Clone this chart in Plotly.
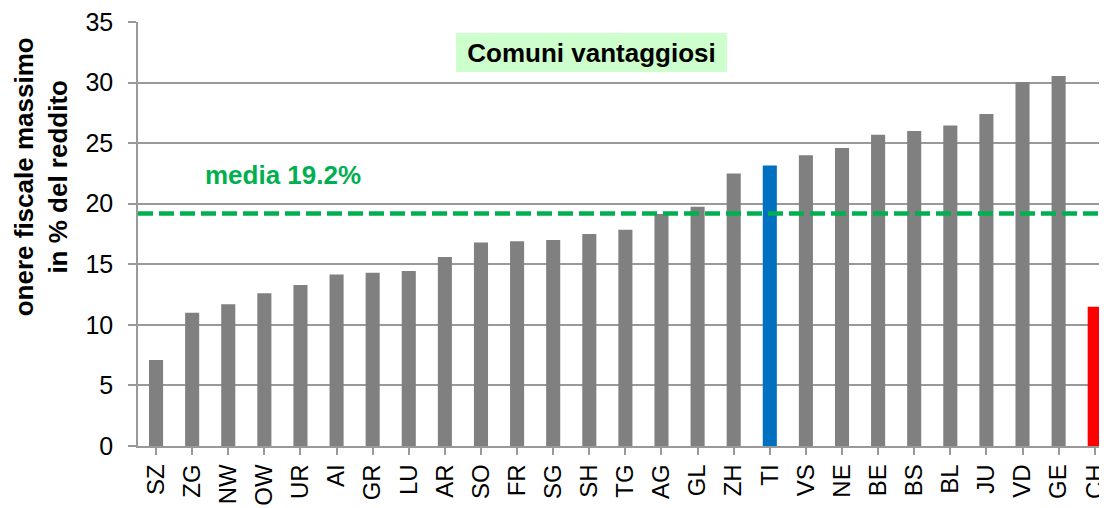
import plotly.graph_objects as go

categories = ["SZ", "ZG", "NW", "OW", "UR", "AI", "GR", "LU", "AR", "SO", "FR", "SG", "SH", "TG",
              "AG", "GL", "ZH", "TI", "VS", "NE", "BE", "BS", "BL", "JU", "VD", "GE", "CH"]
values = [7.1, 11.0, 11.7, 12.6, 13.3, 14.15, 14.3, 14.45, 15.6, 16.8, 16.9, 17.0, 17.5, 17.85,
          19.15, 19.75, 22.5, 23.15, 24.0, 24.6, 25.7, 26.0, 26.45, 27.4, 30.05, 30.55, 11.5]
highlight = {"TI": "#0070C0", "CH": "#FF0000"}
mean_value = 19.2
y_ticks = [0, 5, 10, 15, 20, 25, 30, 35]

colors = [highlight.get(c, "#808080") for c in categories]
FONT = "Liberation Sans, Arial, sans-serif"

fig = go.Figure()
fig.add_trace(go.Bar(
    x=list(range(len(categories))), y=values,
    marker=dict(color=colors, line=dict(width=0)),
    width=0.39,
    hoverinfo="skip",
))

fig.add_shape(type="line", xref="paper", yref="y", x0=0, x1=1, y0=mean_value, y1=mean_value,
              line=dict(color="#00B050", width=4.5, dash="15px,6px"), layer="above")

fig.add_annotation(x=1.3, y=22.4, xref="x", yref="y", xanchor="left", yanchor="middle",
                   text="<b>media 19.2%</b>", showarrow=False,
                   font=dict(family=FONT, size=26, color="#00B050"))

fig.add_annotation(x=12.06, y=32.5, xref="x", yref="y", xanchor="center", yanchor="middle",
                   text="<b>Comuni vantaggiosi</b>", showarrow=False,
                   bgcolor="#CCFFCC", width=271, height=39, borderpad=0, borderwidth=0,
                   font=dict(family=FONT, size=26, color="#000000"))

fig.add_annotation(x=-0.1, y=0.634, xref="paper", yref="paper", xanchor="center", yanchor="middle",
                   text="<b>onere fiscale massimo<br>in % del reddito</b>", showarrow=False,
                   textangle=-90, font=dict(family=FONT, size=26, color="#000000"))

fig.update_layout(
    width=1107, height=508,
    margin=dict(l=130, r=8, t=14, b=70),
    paper_bgcolor="white", plot_bgcolor="white",
    showlegend=False,
    font=dict(family=FONT, size=24, color="#000000"),
)
fig.update_xaxes(
    range=[-0.5, 26.34], automargin=False,
    tickmode="array", tickvals=list(range(len(categories))), ticktext=categories,
    tickangle=-90, tickson="boundaries", ticks="outside", ticklen=7, tickcolor="#999999", tickwidth=1.5,
    showline=True, linecolor="#999999", linewidth=1.5, showgrid=False, zeroline=False,
    ticklabeloverflow="allow",
    tickfont=dict(family=FONT, size=24, color="#000000"),
)
fig.update_yaxes(
    range=[0, 35], tickmode="array", tickvals=y_ticks, automargin=False,
    ticks="outside", ticklen=8, tickcolor="#999999", tickwidth=1.5, ticklabelstandoff=10,
    showline=True, linecolor="#999999", linewidth=1.5,
    showgrid=True, gridcolor="#999999", gridwidth=1.5, zeroline=False,
    ticklabeloverflow="allow",
    tickfont=dict(family=FONT, size=25, color="#000000"),
)

fig.write_html("out.html")
